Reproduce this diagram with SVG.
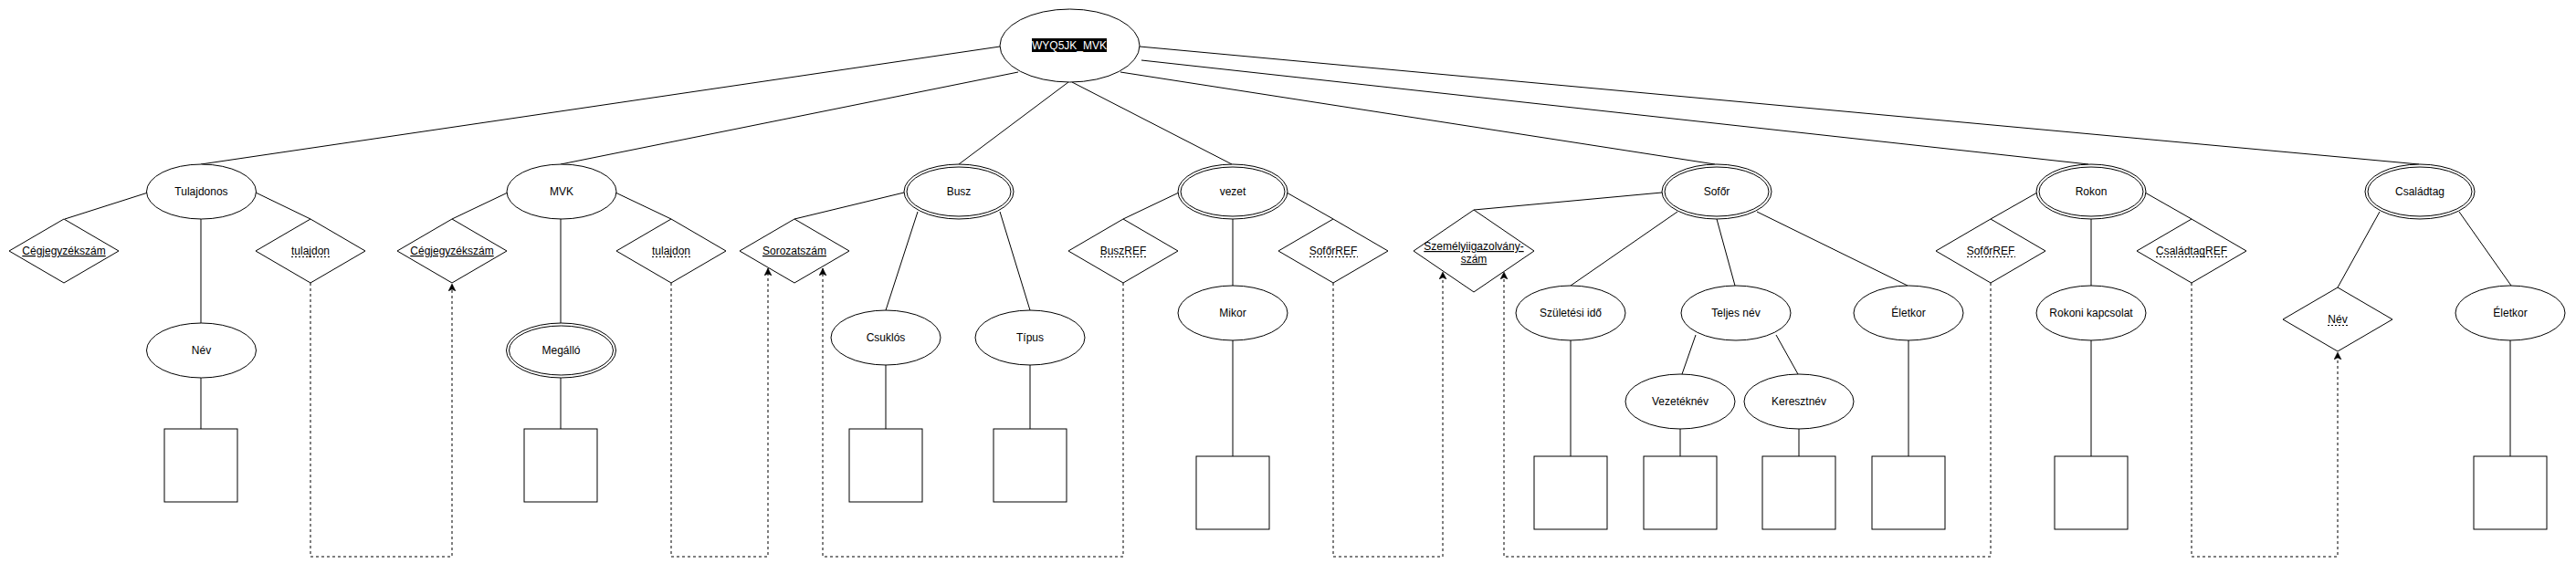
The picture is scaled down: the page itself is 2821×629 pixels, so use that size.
<svg xmlns="http://www.w3.org/2000/svg" width="2821" height="629" viewBox="0 0 2821 629">
<style>
.s{fill:#fff;stroke:#000;stroke-width:1}
.e{stroke:#000;stroke-width:1;fill:none}
.d{stroke:#000;stroke-width:1;fill:none;stroke-dasharray:3 3}
.t{font-family:"Liberation Sans",Arial,sans-serif;font-size:12px;fill:#000;text-anchor:middle}
.u{text-decoration:underline}
.ul{stroke:#000;stroke-width:1;stroke-dasharray:2 2}
</style>
<defs>
<marker id="arr" markerWidth="10" markerHeight="10" refX="8" refY="4" orient="auto" markerUnits="userSpaceOnUse">
<path d="M0,0 L8,4 L0,8 L2,4 z" fill="#000" stroke="#000" stroke-width="0.5"/>
</marker>
</defs>
<rect width="2821" height="629" fill="#fff"/>
<g id="connectors">
<path class="e" d="M1095,51 L220,180"/>
<path class="e" d="M1115,79 L614,180"/>
<path class="e" d="M1170,90 L1050,180"/>
<path class="e" d="M1174,90 L1349,180"/>
<path class="e" d="M1227,79 L1878,180"/>
<path class="e" d="M1250,66 L2287,180"/>
<path class="e" d="M1248,51 L2649,180"/>
<path class="e" d="M162,211 L71,240"/>
<path class="e" d="M280,211 L340,240"/>
<path class="e" d="M220,240 L220,354"/>
<path class="e" d="M220,414 L220,470"/>
<path class="e" d="M556,211 L495,240"/>
<path class="e" d="M674,211 L735,240"/>
<path class="e" d="M614,240 L614,354"/>
<path class="e" d="M614,414 L614,470"/>
<path class="e" d="M990,211 L870,240"/>
<path class="e" d="M1005,232 L970,340"/>
<path class="e" d="M1095,232 L1128,340"/>
<path class="e" d="M970,400 L970,470"/>
<path class="e" d="M1128,400 L1128,470"/>
<path class="e" d="M1291,211 L1230,240"/>
<path class="e" d="M1409,211 L1460,240"/>
<path class="e" d="M1350,240 L1350,313"/>
<path class="e" d="M1350,373 L1350,500"/>
<path class="e" d="M1820,211 L1614,230"/>
<path class="e" d="M1837,232 L1720,313"/>
<path class="e" d="M1880,240 L1900,313"/>
<path class="e" d="M1924,232 L2089,313"/>
<path class="e" d="M1720,373 L1720,500"/>
<path class="e" d="M1857,367 L1842,410"/>
<path class="e" d="M1945,367 L1969,410"/>
<path class="e" d="M1840,470 L1840,500"/>
<path class="e" d="M1970,470 L1970,500"/>
<path class="e" d="M2090,373 L2090,500"/>
<path class="e" d="M2231,211 L2180,240"/>
<path class="e" d="M2349,211 L2400,240"/>
<path class="e" d="M2290,240 L2290,313"/>
<path class="e" d="M2290,373 L2290,500"/>
<path class="e" d="M2606,232 L2560,315"/>
<path class="e" d="M2693,232 L2750,313"/>
<path class="e" d="M2749,373 L2749,500"/>
<path class="d" d="M340,310 L340,610 L495,610 L495,311" marker-end="url(#arr)"/>
<path class="d" d="M735,310 L735,610 L841,610 L841,294" marker-end="url(#arr)"/>
<path class="d" d="M1230,310 L1230,610 L901,610 L901,294" marker-end="url(#arr)"/>
<path class="d" d="M1460,310 L1460,610 L1580,610 L1580,298" marker-end="url(#arr)"/>
<path class="d" d="M2180,310 L2180,610 L1647,610 L1647,298" marker-end="url(#arr)"/>
<path class="d" d="M2400,310 L2400,610 L2560,610 L2560,386" marker-end="url(#arr)"/>
</g>
<g id="root">
<ellipse class="s" cx="1171.5" cy="50" rx="76.5" ry="40"/>
<rect x="1130" y="42" width="82" height="15" fill="#000"/>
<text class="t" x="1171" y="54" style="fill:#fff">WYQ5JK_MVK</text>
</g>
<g id="tulajdonos">
<ellipse class="s" cx="220.5" cy="210" rx="60" ry="30"/>
<text class="t" x="220.5" y="214">Tulajdonos</text>
</g>
<g id="mvk">
<ellipse class="s" cx="615" cy="210" rx="60" ry="30"/>
<text class="t" x="615" y="214">MVK</text>
</g>
<g id="busz">
<ellipse class="s" cx="1050" cy="210" rx="60" ry="30"/>
<ellipse class="s" cx="1050" cy="210" rx="57" ry="27"/>
<text class="t" x="1050" y="214">Busz</text>
</g>
<g id="vezet">
<ellipse class="s" cx="1350" cy="210" rx="60" ry="30"/>
<ellipse class="s" cx="1350" cy="210" rx="57" ry="27"/>
<text class="t" x="1350" y="214">vezet</text>
</g>
<g id="sofor">
<ellipse class="s" cx="1880" cy="210" rx="60" ry="30"/>
<ellipse class="s" cx="1880" cy="210" rx="57" ry="27"/>
<text class="t" x="1880" y="214">Sofőr</text>
</g>
<g id="rokon">
<ellipse class="s" cx="2290" cy="210" rx="60" ry="30"/>
<ellipse class="s" cx="2290" cy="210" rx="57" ry="27"/>
<text class="t" x="2290" y="214">Rokon</text>
</g>
<g id="csaladtag">
<ellipse class="s" cx="2650" cy="210" rx="60" ry="30"/>
<ellipse class="s" cx="2650" cy="210" rx="57" ry="27"/>
<text class="t" x="2650" y="214">Családtag</text>
</g>
<g id="cegjegyzekszam1">
<path class="s" d="M70,240 L130,275 L70,310 L10,275 Z"/>
<text class="t u" x="70" y="279">Cégjegyzékszám</text>
</g>
<g id="tulajdon1">
<path class="s" d="M340,240 L400,275 L340,310 L280,275 Z"/>
<text class="t" x="340" y="279">tulajdon</text>
<line class="ul" x1="319" y1="281.5" x2="361" y2="281.5"/>
</g>
<g id="cegjegyzekszam2">
<path class="s" d="M495,240 L555,275 L495,310 L435,275 Z"/>
<text class="t u" x="495" y="279">Cégjegyzékszám</text>
</g>
<g id="tulajdon2">
<path class="s" d="M735,240 L795,275 L735,310 L675,275 Z"/>
<text class="t" x="735" y="279">tulajdon</text>
<line class="ul" x1="714" y1="281.5" x2="756" y2="281.5"/>
</g>
<g id="sorozatszam">
<path class="s" d="M870,240 L930,275 L870,310 L810,275 Z"/>
<text class="t u" x="870" y="279">Sorozatszám</text>
</g>
<g id="buszref">
<path class="s" d="M1230,240 L1290,275 L1230,310 L1170,275 Z"/>
<text class="t" x="1230" y="279">BuszREF</text>
<line class="ul" x1="1205" y1="281.5" x2="1256" y2="281.5"/>
</g>
<g id="soforref1">
<path class="s" d="M1460,240 L1520,275 L1460,310 L1400,275 Z"/>
<text class="t" x="1460" y="279">SofőrREF</text>
<line class="ul" x1="1434" y1="281.5" x2="1487" y2="281.5"/>
</g>
<g id="szemelyi">
<path class="s" d="M1614,230 L1680,275 L1614,320 L1548,275 Z"/>
<text class="t u" x="1614" y="274">Személyiigazolvány-</text>
<text class="t u" x="1614" y="288">szám</text>
</g>
<g id="soforref2">
<path class="s" d="M2180,240 L2240,275 L2180,310 L2120,275 Z"/>
<text class="t" x="2180" y="279">SofőrREF</text>
<line class="ul" x1="2154" y1="281.5" x2="2207" y2="281.5"/>
</g>
<g id="csaladtagref">
<path class="s" d="M2400,240 L2460,275 L2400,310 L2340,275 Z"/>
<text class="t" x="2400" y="279">CsaládtagREF</text>
<line class="ul" x1="2361" y1="281.5" x2="2439" y2="281.5"/>
</g>
<g id="nev-diamond">
<path class="s" d="M2560,315 L2620,350 L2560,385 L2500,350 Z"/>
<text class="t" x="2560" y="354">Név</text>
<line class="ul" x1="2549" y1="356.5" x2="2571" y2="356.5"/>
</g>
<g id="nev">
<ellipse class="s" cx="220.5" cy="384" rx="60" ry="30"/>
<text class="t" x="220.5" y="388">Név</text>
</g>
<g id="megallo">
<ellipse class="s" cx="614.5" cy="384" rx="60" ry="30"/>
<ellipse class="s" cx="614.5" cy="384" rx="57" ry="27"/>
<text class="t" x="614.5" y="388">Megálló</text>
</g>
<g id="csuklos">
<ellipse class="s" cx="970" cy="370" rx="60" ry="30"/>
<text class="t" x="970" y="374">Csuklós</text>
</g>
<g id="tipus">
<ellipse class="s" cx="1128" cy="370" rx="60" ry="30"/>
<text class="t" x="1128" y="374">Típus</text>
</g>
<g id="mikor">
<ellipse class="s" cx="1350" cy="343" rx="60" ry="30"/>
<text class="t" x="1350" y="347">Mikor</text>
</g>
<g id="szuletesi">
<ellipse class="s" cx="1720" cy="343" rx="60" ry="30"/>
<text class="t" x="1720" y="347">Születési idő</text>
</g>
<g id="teljesnev">
<ellipse class="s" cx="1901" cy="343" rx="60" ry="30"/>
<text class="t" x="1901" y="347">Teljes név</text>
</g>
<g id="eletkor1">
<ellipse class="s" cx="2090" cy="343" rx="60" ry="30"/>
<text class="t" x="2090" y="347">Életkor</text>
</g>
<g id="vezeteknev">
<ellipse class="s" cx="1840" cy="440" rx="60" ry="30"/>
<text class="t" x="1840" y="444">Vezetéknév</text>
</g>
<g id="keresztnev">
<ellipse class="s" cx="1970" cy="440" rx="60" ry="30"/>
<text class="t" x="1970" y="444">Keresztnév</text>
</g>
<g id="rokonikapcsolat">
<ellipse class="s" cx="2290" cy="343" rx="60" ry="30"/>
<text class="t" x="2290" y="347">Rokoni kapcsolat</text>
</g>
<g id="eletkor2">
<ellipse class="s" cx="2749" cy="343" rx="60" ry="30"/>
<text class="t" x="2749" y="347">Életkor</text>
</g>
<g id="box-nev"><rect class="s" x="180" y="470" width="80" height="80"/></g>
<g id="box-megallo"><rect class="s" x="574" y="470" width="80" height="80"/></g>
<g id="box-csuklos"><rect class="s" x="930" y="470" width="80" height="80"/></g>
<g id="box-tipus"><rect class="s" x="1088" y="470" width="80" height="80"/></g>
<g id="box-mikor"><rect class="s" x="1310" y="500" width="80" height="80"/></g>
<g id="box-szuletesi"><rect class="s" x="1680" y="500" width="80" height="80"/></g>
<g id="box-vezeteknev"><rect class="s" x="1800" y="500" width="80" height="80"/></g>
<g id="box-keresztnev"><rect class="s" x="1930" y="500" width="80" height="80"/></g>
<g id="box-eletkor1"><rect class="s" x="2050" y="500" width="80" height="80"/></g>
<g id="box-rokoni"><rect class="s" x="2250" y="500" width="80" height="80"/></g>
<g id="box-eletkor2"><rect class="s" x="2709" y="500" width="80" height="80"/></g>
</svg>
